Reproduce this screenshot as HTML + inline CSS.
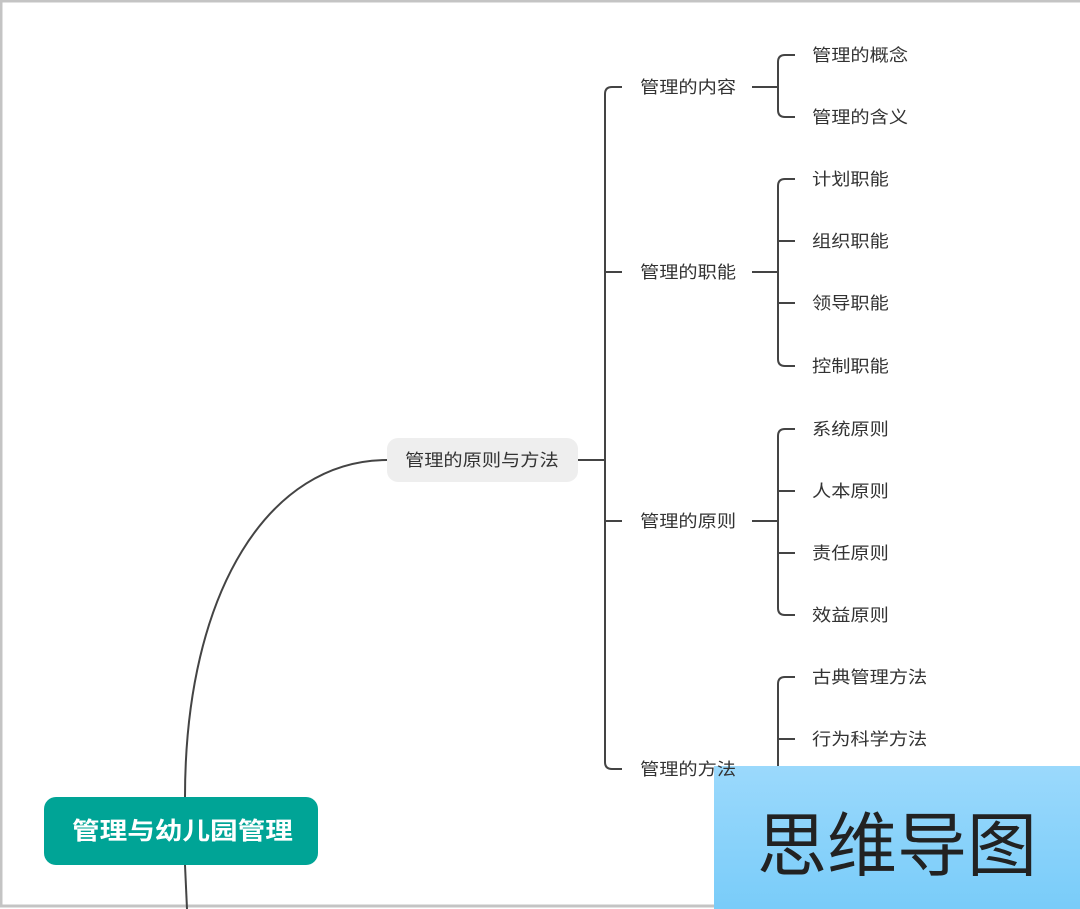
<!DOCTYPE html>
<html><head><meta charset="utf-8"><style>
html,body{margin:0;padding:0;background:#fff}
body{width:1080px;height:909px;position:relative;overflow:hidden;font-family:"Liberation Sans","Noto Sans CJK SC",sans-serif}
.t{position:absolute;font-size:17px;color:#333;line-height:20px;white-space:nowrap;transform:scaleX(1.13);transform-origin:0 50%}
</style></head><body>
<svg width="1080" height="909" style="position:absolute;left:0;top:0">
<rect x="1" y="1" width="1090" height="905" fill="none" stroke="#c4c4c4" stroke-width="3"/>
<g fill="none" stroke="#444" stroke-width="2">
<path d="M185,797 C185,590 270,460 387,460"/>
<path d="M185,865 L187,909"/>
<path d="M578,460 L605,460"/>
<path d="M622,87 L612,87 Q605,87 605,94 L605,762 Q605,769 612,769 L622,769"/>
<path d="M605,272 L622,272 M605,521 L622,521"/>
<path d="M752,87 L778,87 M752,272 L778,272 M752,521 L778,521"/>
<path d="M795,55 L785,55 Q778,55 778,62 L778,110 Q778,117 785,117 L795,117"/>
<path d="M795,179 L785,179 Q778,179 778,186 L778,359 Q778,366 785,366 L795,366 M778,241 L795,241 M778,303 L795,303"/>
<path d="M795,429 L785,429 Q778,429 778,436 L778,608 Q778,615 785,615 L795,615 M778,491 L795,491 M778,553 L795,553"/>
<path d="M795,677 L785,677 Q778,677 778,684 L778,800 M778,739 L795,739"/>
</g>
<rect x="387" y="438" width="191" height="44" rx="11" fill="#eeeeee"/>
<rect x="44" y="797" width="274" height="68" rx="12" fill="#00a496"/>
<defs><linearGradient id="g" x1="0" y1="0" x2="0" y2="1"><stop offset="0" stop-color="#9bd9fc"/><stop offset="1" stop-color="#79ccf9"/></linearGradient></defs>
<rect x="714" y="766" width="366" height="143" fill="url(#g)"/>
</svg>
<div class="t" style="left:405px;top:451px">管理的原则与方法</div>
<div class="t" style="left:72px;top:816px;color:#fff;font-weight:bold;font-size:24px;line-height:32px;transform:scaleX(1.15)">管理与幼儿园管理</div>
<div class="t" style="left:640px;top:78px">管理的内容</div>
<div class="t" style="left:640px;top:263px">管理的职能</div>
<div class="t" style="left:640px;top:512px">管理的原则</div>
<div class="t" style="left:640px;top:760px">管理的方法</div>
<div class="t" style="left:812px;top:46px">管理的概念</div>
<div class="t" style="left:812px;top:108px">管理的含义</div>
<div class="t" style="left:812px;top:170px">计划职能</div>
<div class="t" style="left:812px;top:232px">组织职能</div>
<div class="t" style="left:812px;top:294px">领导职能</div>
<div class="t" style="left:812px;top:357px">控制职能</div>
<div class="t" style="left:812px;top:420px">系统原则</div>
<div class="t" style="left:812px;top:482px">人本原则</div>
<div class="t" style="left:812px;top:544px">责任原则</div>
<div class="t" style="left:812px;top:606px">效益原则</div>
<div class="t" style="left:812px;top:668px">古典管理方法</div>
<div class="t" style="left:812px;top:730px">行为科学方法</div>
<div style="position:absolute;left:714px;top:766px;width:366px;height:143px;overflow:hidden">
<div style="position:absolute;left:43px;top:40px;white-space:nowrap;font-size:70px;line-height:80px;color:#222;font-family:'Liberation Sans','Noto Sans CJK SC',sans-serif">思维导图</div>
</div>
</body></html>
